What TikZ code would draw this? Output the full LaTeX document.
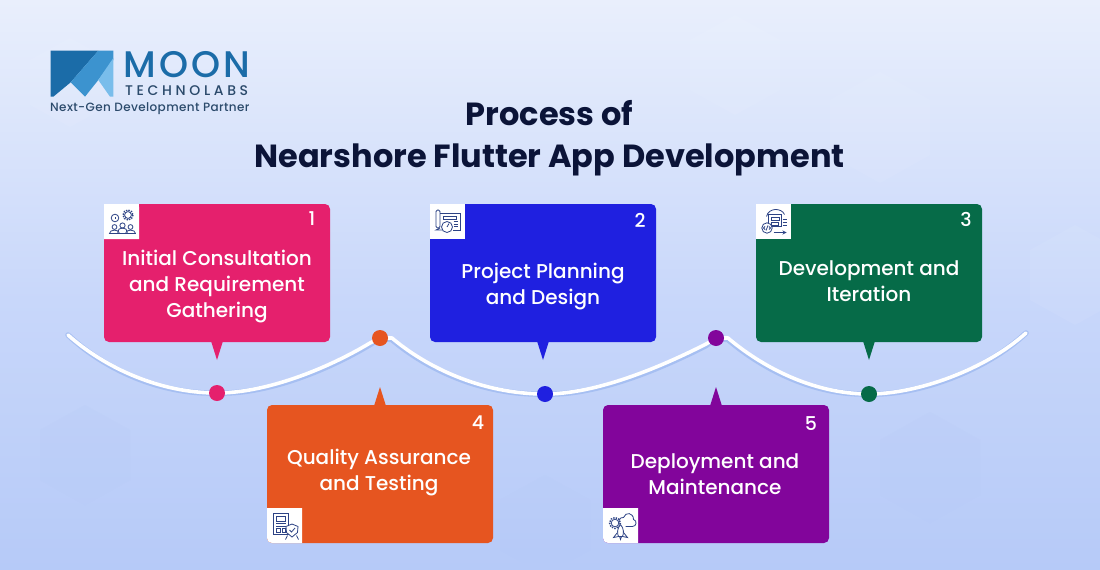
\documentclass[tikz,border=0pt]{standalone}
\usepackage{fontspec}
\setmainfont{Poppins}
\newfontfamily\medfont{Poppins Medium}
\newfontfamily\logofont[LetterSpace=9]{Poppins Medium}
\newfontfamily\techfont[LetterSpace=26]{Poppins Medium}
\newfontfamily\tagfont[LetterSpace=3.2]{Poppins Medium}
\usetikzlibrary{calc}
\definecolor{pinkc}{HTML}{E5206D}
\definecolor{bluec}{HTML}{1F20E0}
\definecolor{greenc}{HTML}{066B48}
\definecolor{orangec}{HTML}{E65520}
\definecolor{purplec}{HTML}{82059B}
\definecolor{navy}{HTML}{0B1438}
\definecolor{iconc}{HTML}{2D4385}
\definecolor{logod}{HTML}{1B6CA8}
\definecolor{logom}{HTML}{3C93CF}
\definecolor{logol}{HTML}{79BDEB}
\definecolor{logot}{HTML}{2B4A6B}
\definecolor{bgtop}{HTML}{E9EFFC}
\definecolor{bgmid}{HTML}{C8D7FA}
\definecolor{bgbot}{HTML}{B6CAF8}
\definecolor{waveshadow}{HTML}{A6BFF2}
\tikzset{
  x=1pt,y=-1pt,
  card/.style={fill=#1,draw=none,rounded corners=5pt,minimum width=226pt,minimum height=138pt,inner sep=0pt},
  cardtext/.style={text=white,font=\fontsize{20}{26}\selectfont\medfont,align=center,inner sep=0pt},
  cardnum/.style={text=white,font=\fontsize{19}{22}\selectfont\medfont,inner sep=0pt},
  dotn/.style={circle,fill=#1,draw=none,minimum size=16pt,inner sep=0pt},
  iconbox/.style={fill=white,draw=none,minimum size=35pt,inner sep=0pt},
  iconline/.style={draw=iconc,line width=0.8pt,fill=none},
  hexa/.style={fill=white,fill opacity=0.06,draw=none},
  hexd/.style={fill=bgbot,fill opacity=0.2,draw=none},
  pics/icona/.style={code={
    \draw[iconline] (6.5,-6.5) circle (3.4);
    \draw[iconline,dash pattern=on 1.4pt off 1.2pt,line width=1.4pt] (6.5,-6.5) circle (5);
    \draw[iconline] (-6.5,-3.5) circle (3.8);
    \draw[iconline] (-6.5,-4.5) -- (-6.5,-3);
    \draw[iconline] (-7,5.5) circle (2.4);
    \draw[iconline] (1,4) circle (2.6);
    \draw[iconline] (9,5.5) circle (2.4);
    \draw[iconline] (-12,12) .. controls (-12,7.5) and (-2,7.5) .. (-2,12);
    \draw[iconline] (-4,11) .. controls (-4,5) and (6,5) .. (6,11);
    \draw[iconline] (4,12) .. controls (4,7.5) and (14,7.5) .. (14,12);
    \draw[iconline] (-13,12) -- (14,12);
  }},
  pics/iconb/.style={code={
    \draw[iconline,rounded corners=1.5pt] (-11.5,-11.5) rectangle (-7.5,6.5);
    \draw[iconline] (-7.5,-8.5) -- (12.5,-8.5) -- (12.5,8.5) -- (5,8.5);
    \draw[iconline] (-7.5,6.5) -- (-11.5,8.5) -- (-5,8.5);
    \draw[iconline] (-4,-5) rectangle (9,-2.5);
    \draw[iconline] (6,0) -- (10,0) (6,2.5) -- (10,2.5) (6,5) -- (10,5);
    \draw[iconline,fill=white] (-0.5,5.5) circle (5.5);
    \draw[iconline] (-0.5,5.5) -- (1.5,2);
  }},
  pics/iconc/.style={code={
    \draw[iconline] (-5,-7) rectangle (8,5);
    \draw[iconline] (-2.5,-4.5) rectangle (5.5,-1.5);
    \draw[iconline] (-2,1) rectangle (5,3.5);
    \draw[iconline] (-7,-5) .. controls (-5,-14) and (8,-14) .. (11,-7);
    \draw[iconline] (9,-2) -- (13,-2) (9,1) -- (13,1) (9,4) -- (13,4);
    \draw[iconline,->,>=stealth] (0,11) -- (13,11);
    \draw[iconline,fill=white] (-6.5,6.5) circle (5.2);
    \draw[iconline] (-8.5,5) -- (-10,6.5) -- (-8.5,8) (-4.5,5) -- (-3,6.5) -- (-4.5,8) (-7.5,9) -- (-5.5,4);
  }},
  pics/icond/.style={code={
    \draw[iconline] (-11.5,-12.5) rectangle (4,9);
    \draw[iconline] (-8.5,-9.5) rectangle (1,-4.5);
    \draw[iconline] (-8.5,-2) -- (1,-2) (-8.5,0.5) -- (1,0.5);
    \draw[iconline] (-8.5,3) rectangle (-4,7) (-2,3) rectangle (1,7);
    \draw[iconline,fill=white] (7.5,-1.5) -- (13.5,1) -- (13,7) -- (7.5,11.5) -- (2,7) -- (1.5,1) -- cycle;
    \draw[iconline] (5,4.5) -- (7,6.5) -- (10.5,2.5);
    \draw[iconline] (3,10) -- (1,14) (12,10) -- (14,14);
  }},
  pics/icone/.style={code={
    \draw[iconline] (-1,-1) .. controls (-3,-3) and (-1,-9) .. (3,-8) .. controls (5,-14) and (13,-13) .. (13,-6) .. controls (17,-5) and (16,1) .. (12,1) -- (5,1);
    \draw[iconline,dash pattern=on 1.4pt off 1.2pt,line width=1.4pt] (-5.5,-2.5) circle (5.5);
    \draw[iconline,fill=white] (-5.5,-2.5) circle (3.8);
    \draw[iconline,fill=white] (0,-1) .. controls (-3.5,3) and (-3.5,8) .. (-2,11) -- (2,11) .. controls (3.5,8) and (3.5,3) .. (0,-1);
    \draw[iconline] (-3,7) -- (-7,12) -- (-2,11) (3,7) -- (7,12) -- (2,11);
    \draw[iconline] (-1,11) -- (0,14) -- (1,11);
  }},
}
\begin{document}
\begin{tikzpicture}
\useasboundingbox (0,0) rectangle (1100,570);
% background
\fill[bgmid] (0,0) rectangle (1100,570);
\shade[top color=bgtop,bottom color=bgmid] (0,0) rectangle (1100,300);
\shade[top color=bgmid,bottom color=bgbot] (0,300) rectangle (1100,570);
% faint hexagons
\fill[hexa] (30,60) -- (70,38) -- (110,60) -- (110,105) -- (70,127) -- (30,105) -- cycle;
\fill[hexa] (690,40) -- (735,15) -- (780,40) -- (780,90) -- (735,115) -- (690,90) -- cycle;
\fill[hexa] (830,100) -- (880,72) -- (930,100) -- (930,155) -- (880,183) -- (830,155) -- cycle;
\fill[hexa] (1030,250) -- (1075,225) -- (1120,250) -- (1120,300) -- (1075,325) -- (1030,300) -- cycle;
\fill[hexd] (40,430) -- (85,405) -- (130,430) -- (130,480) -- (85,505) -- (40,480) -- cycle;
\fill[hexd] (880,440) -- (930,412) -- (980,440) -- (980,495) -- (930,523) -- (880,495) -- cycle;
\fill[hexd] (500,500) -- (545,475) -- (590,500) -- (590,550) -- (545,575) -- (500,550) -- cycle;
% logo
\fill[logod] (50.7,50.7) -- (98.3,50.7) -- (70.7,82.3) -- (53.3,96.7) -- (50.7,96.7) -- cycle;
\fill[logom] (98.3,50.7) -- (113.3,50.7) -- (113.3,60) -- (98.3,80) -- (85,96.7) -- (70.7,82.3) -- cycle;
\fill[logol] (113.3,58) -- (113.3,96.7) -- (110,96.7) -- (98.3,80) -- cycle;
\node[anchor=west,inner sep=0pt,text=logod,font=\fontsize{37}{37}\selectfont\logofont] (logomoon) at (123,65) {MOON};
\node[anchor=west,inner sep=0pt,text=logot,font=\fontsize{14}{14}\selectfont\techfont] (logotech) at (125,91) {TECHNOLABS};
\node[anchor=west,inner sep=0pt,text=logot,font=\fontsize{12}{12}\selectfont\tagfont] (logotag) at (50,109) {Next-Gen Development Partner};
% title
\node[inner sep=0pt,text=navy,font=\fontsize{32}{42}\selectfont\bfseries,align=center] (title) at (549.5,138) {Process of\\Nearshore Flutter App Development};
% wave
\coordinate (wstart) at (68,335);
\coordinate (wend) at (1026,333);
\coordinate (d1) at (217,393);
\coordinate (d2) at (545,394);
\coordinate (d3) at (869,394);
\coordinate (d4) at (380,338);
\coordinate (d5) at (716,338);
\foreach \col/\wd/\dy in {waveshadow/5.5/1.6,white/3.6/0}{
\draw[draw=\col,line width=\wd pt,yshift=-\dy pt,line cap=round,line join=round]
  (wstart) .. controls (105,368) and (160,393) .. (d1)
  .. controls (265,393) and (325,370) .. (370,343) -- (d4) -- (392,338)
  .. controls (425,366) and (480,394) .. (d2)
  .. controls (593,394) and (653,371) .. (706,344) -- (d5) -- (728,338)
  .. controls (761,366) and (812,394) .. (d3)
  .. controls (917,394) and (985,370) .. (wend);
}
% pointers
\coordinate (t1) at (217,360);
\coordinate (t2) at (543,360);
\coordinate (t3) at (869,360);
\coordinate (t4) at (380,387);
\coordinate (t5) at (716,387);
\fill[pinkc] (211,341) -- (t1) -- (223,341) -- cycle;
\fill[bluec] (537,341) -- (t2) -- (549,341) -- cycle;
\fill[greenc] (863,341) -- (t3) -- (875,341) -- cycle;
\fill[orangec] (374,406) -- (t4) -- (386,406) -- cycle;
\fill[purplec] (710,406) -- (t5) -- (722,406) -- cycle;
% cards
\node[card=pinkc] (c1) at (217,273) {};
\node[card=bluec] (c2) at (543,273) {};
\node[card=greenc] (c3) at (869,273) {};
\node[card=orangec] (c4) at (380,474) {};
\node[card=purplec] (c5) at (716,474) {};
% dots
\node[dotn=pinkc] (n1) at (d1) {};
\node[dotn=bluec] (n2) at (d2) {};
\node[dotn=greenc] (n3) at (d3) {};
\node[dotn=orangec] (n4) at (d4) {};
\node[dotn=purplec] (n5) at (d5) {};
% text
\node[cardtext] (x1) at (217,287) {Initial Consultation\\and Requirement\\Gathering};
\node[cardtext] (x2) at (543,287) {Project Planning\\and Design};
\node[cardtext] (x3) at (869,281) {Development and\\Iteration};
\node[cardtext] (x4) at (379,473) {Quality Assurance\\and Testing};
\node[cardtext] (x5) at (715,474) {Deployment and\\Maintenance};
\node[cardnum] (k1) at (312,219) {1};
\node[cardnum] (k2) at (640,220) {2};
\node[cardnum] (k3) at (966,219) {3};
\node[cardnum] (k4) at (478,423) {4};
\node[cardnum] (k5) at (811,424) {5};
% icons
\fill[white,rounded corners=3pt] (104,204) -- (139,204) [sharp corners] -- (139,239) -- (104,239) -- cycle;
\node[iconbox] (i1) at (121.5,221.5) {};
\node[iconbox] (i2) at (447.5,221.5) {};
\node[iconbox] (i3) at (773.5,221.5) {};
\coordinate (i4) at (284.5,525.5);
\coordinate (i5) at (620.5,525.5);
\fill[white] (267,508) -- (302,508) -- (302,543) [rounded corners=5pt] -- (267,543) [sharp corners] -- (267,508) -- cycle;
\fill[white] (603,508) -- (638,508) -- (638,543) [rounded corners=5pt] -- (603,543) [sharp corners] -- (603,508) -- cycle;
\pic at (i1) {icona};
\pic at (i2) {iconb};
\pic at (i3) {iconc};
\pic at (i4) {icond};
\pic at (i5) {icone};
\end{tikzpicture}
\end{document}
